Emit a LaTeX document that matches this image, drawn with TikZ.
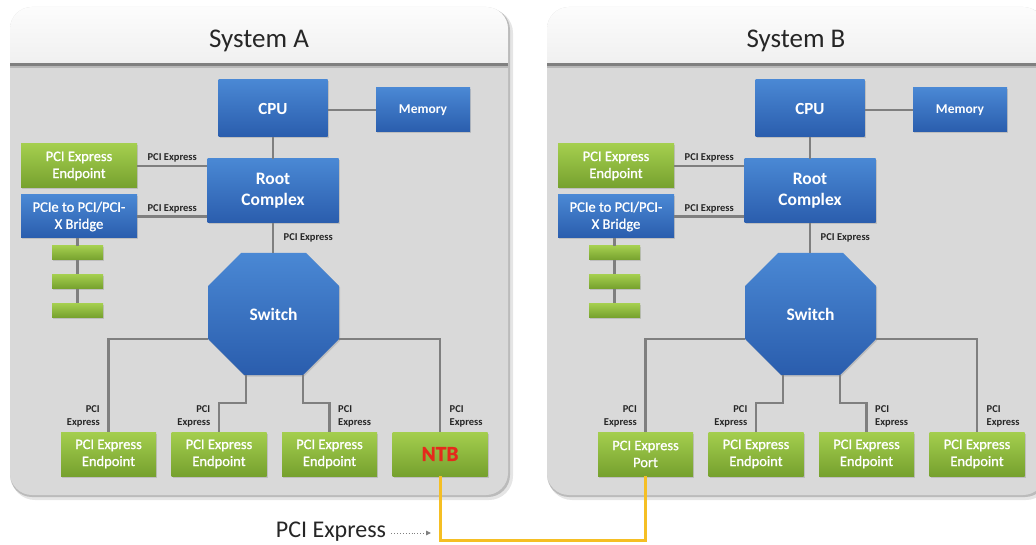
\documentclass[tikz,border=0pt]{standalone}
\usepackage{fontspec}
\setmainfont{Carlito}
\newfontfamily\semibfont[FakeBold=1.0]{Carlito}
\usetikzlibrary{shadows,arrows.meta}
\definecolor{panelgray}{HTML}{D9D9D9}
\definecolor{headtop}{HTML}{FCFCFC}
\definecolor{headbot}{HTML}{F0F0F0}
\definecolor{blueT}{HTML}{4A88D4}
\definecolor{blueB}{HTML}{2A5DAD}
\definecolor{greenT}{HTML}{A4CE4E}
\definecolor{greenB}{HTML}{76A12E}
\definecolor{linegray}{HTML}{7F7F7F}
\definecolor{yel}{HTML}{F5BF24}
\definecolor{ntbred}{HTML}{E52A1C}
\tikzset{
  box/.style={rectangle, inner sep=0pt, text=white, align=center,
    drop shadow={shadow xshift=1.2pt, shadow yshift=-1.5pt, opacity=0.3}},
  bluebox/.style={box, top color=blueT, bottom color=blueB},
  greenbox/.style={box, top color=greenT, bottom color=greenB},
  conn/.style={draw=linegray, line width=2.4pt},
  lbl/.style={font=\fontsize{10.5}{13}\selectfont\bfseries, text=black!85, inner sep=1.5pt},
  eptext/.style={font=\semibfont\fontsize{14.5}{17}\selectfont},
}
\newcommand\drawsystem[5]{%
\begin{scope}[xshift=#2pt]
  \fill[black,opacity=0.10,rounded corners=24pt] (11,9) rectangle (513,500);
  \fill[black,opacity=0.18,rounded corners=22pt] (10,8) rectangle (510,497);
  \fill[panelgray,rounded corners=22pt] (10,7) rectangle (508,495);
  \begin{scope}
    \clip[rounded corners=22pt] (10,7) rectangle (508,495);
    \fill[black!50] (10,62) rectangle (508,66);
    \fill[black!28] (10,66) rectangle (508,68);
    \shade[top color=headtop, bottom color=headbot] (10,7) rectangle (508,63);
  \end{scope}
  \node[font=\fontsize{27}{32}\selectfont, text=black!85] (#1title) at (259,41) {#3};
  \node[bluebox, minimum width=109pt, minimum height=57pt, font=\fontsize{17}{20}\selectfont\bfseries] (#1cpu) at (273,108.5) {CPU};
  \node[bluebox, minimum width=94pt, minimum height=44pt, font=\fontsize{13.5}{16}\selectfont\bfseries] (#1mem) at (423,110) {Memory};
  \node[bluebox, minimum width=131pt, minimum height=64pt, font=\fontsize{17.5}{21}\selectfont\bfseries] (#1root) at (273,191) {Root\\Complex};
  \node[greenbox, eptext, minimum width=116pt, minimum height=44pt] (#1lep) at (79,166) {PCI Express\\Endpoint};
  \node[bluebox, eptext, minimum width=116pt, minimum height=43pt] (#1br) at (79,216.5) {PCIe to PCI/PCI-\\X Bridge};
  \node[greenbox, minimum width=51pt, minimum height=14pt] (#1bara) at (77.5,253) {};
  \node[greenbox, minimum width=51pt, minimum height=14pt] (#1barb) at (77.5,281.5) {};
  \node[greenbox, minimum width=51pt, minimum height=14pt] (#1barc) at (77.5,310.5) {};
  \path[top color=blueT, bottom color=blueB, drop shadow={shadow xshift=1.2pt, shadow yshift=-1.5pt, opacity=0.3}]
    (241,253) -- (306,253) -- (339,286) -- (339,339) -- (303,375) -- (244,375) -- (208,339) -- (208,286) -- cycle;
  \node[font=\fontsize{17.5}{21}\selectfont\bfseries, text=white, minimum width=131pt, minimum height=122pt, inner sep=0pt] (#1sw) at (273.5,314) {Switch};
  \node[greenbox, eptext, minimum width=95pt, minimum height=44pt] (#1ea) at (108.5,454) {#4};
  \node[greenbox, eptext, minimum width=95pt, minimum height=44pt] (#1eb) at (219,454) {PCI Express\\Endpoint};
  \node[greenbox, eptext, minimum width=95pt, minimum height=44pt] (#1ec) at (329.5,454) {PCI Express\\Endpoint};
  \node[greenbox, eptext, minimum width=95pt, minimum height=44pt] (#1ed) at (440,454) {#5};
  \draw[conn] (#1mem.west) -- (#1mem.west -| #1cpu.east);
  \draw[conn] (#1cpu.south) -- (#1root.north);
  \draw[conn] (#1lep.east) -- node[lbl, above, yshift=1pt]{PCI Express} (#1lep.east -| #1root.west);
  \draw[conn] (#1br.east) -- node[lbl, above, yshift=1pt]{PCI Express} (#1br.east -| #1root.west);
  \draw[conn] (#1root.south) -- node[lbl, right, xshift=8pt]{PCI Express} (#1root.south |- #1sw.north);
  \draw[conn] (#1bara.north |- #1br.south) -- (#1bara.north);
  \draw[conn] (#1bara.south) -- (#1barb.north);
  \draw[conn] (#1barb.south) -- (#1barc.north);
  \draw[conn] ([yshift=-25pt]#1sw.west) -| (#1ea.north);
  \draw[conn] ([yshift=-25pt]#1sw.east) -| (#1ed.north);
  \draw[conn] ([xshift=-27.5pt]#1sw.south) |- ([yshift=29pt]#1eb.north) -- (#1eb.north);
  \draw[conn] ([xshift=29.5pt]#1sw.south) |- ([yshift=29pt]#1ec.north) -- (#1ec.north);
  \node[lbl, align=right, anchor=south east, xshift=-7pt, yshift=3pt] (#1la) at (#1ea.north) {PCI\\Express};
  \node[lbl, align=right, anchor=south east, xshift=-7pt, yshift=3pt] (#1lb) at (#1eb.north) {PCI\\Express};
  \node[lbl, align=left, anchor=south west, xshift=7pt, yshift=3pt] (#1lc) at (#1ec.north) {PCI\\Express};
  \node[lbl, align=left, anchor=south west, xshift=8pt, yshift=3pt] (#1ld) at (#1ed.north) {PCI\\Express};
\end{scope}}
\begin{document}
\begin{tikzpicture}[x=1pt,y=-1pt]
  \useasboundingbox (0,0) rectangle (1036,545);
  \clip (0,0) rectangle (1036,545);
  \fill[white] (0,0) rectangle (1036,545);
  \drawsystem{a}{0}{System A}{PCI Express\\Endpoint}{\fontsize{21.5}{24}\selectfont\bfseries\color{ntbred}NTB}
  \drawsystem{b}{537}{System B}{PCI Express\\Port}{PCI Express\\Endpoint}
  \draw[yel, line width=3pt] (aed.south) -- ++(0,64) -| (bea.south);
  \node[font=\fontsize{24}{28}\selectfont, text=black!85, inner sep=2pt] (pe) at (331,532) {PCI Express};
  \coordinate (pa) at (431,533);
  \draw[black!50, dotted, line width=0.9pt, -{Triangle[length=5pt,width=4.5pt]}] ([xshift=3pt]pe.east |- pa) -- (pa);
\end{tikzpicture}
\end{document}
